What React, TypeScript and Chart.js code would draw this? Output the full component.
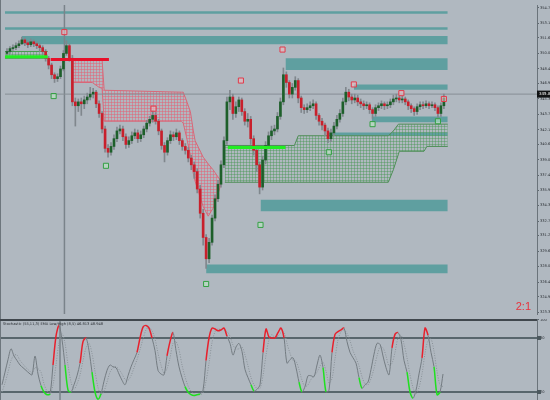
import React, { useEffect, useRef } from "react";
import { Chart, registerables } from "chart.js";

Chart.register(...registerables);

// ---------------- price data (one candle per bar) ----------------
const opens = [
  350.0, 350.2, 350.5, 350.6, 350.8, 351.0, 351.4, 351.1, 350.9, 351.2,
  351.0, 350.8, 350.6, 350.2, 349.5, 348.8, 347.8, 347.4, 347.6, 348.4,
  350.0, 350.8, 349.5, 345.0, 344.6, 345.0, 344.8, 345.2, 345.5, 345.8,
  346.0, 344.8, 343.8, 342.2, 340.2, 339.8, 340.4, 341.2, 342.0, 342.2,
  341.4, 340.6, 341.0, 341.5, 341.8, 341.2, 341.6, 342.2, 342.8, 343.2,
  343.6, 343.0, 342.0, 340.5, 339.8, 341.0, 341.6, 341.4, 341.8, 341.0,
  340.4, 340.0, 339.2, 338.5, 337.8, 336.0, 333.5, 331.0, 328.8, 330.5,
  333.0, 335.0, 336.5, 338.5, 341.0, 345.0, 345.5, 343.8, 344.5, 345.2,
  344.0, 343.0, 343.2, 341.2, 340.0, 338.5, 336.2, 339.0, 340.5, 341.5,
  342.0, 342.2, 343.5, 345.0, 347.8, 347.0, 345.8, 346.5, 347.2, 345.4,
  344.4, 344.2, 344.4, 344.6, 344.8, 343.6, 343.0, 342.6, 342.0, 341.2,
  341.8, 342.5, 343.2, 343.8, 345.0, 346.0, 345.5, 345.2, 345.4, 345.0,
  344.8, 344.6, 344.7, 344.2, 343.8, 344.4, 344.6, 344.8, 344.6, 344.7,
  345.0, 345.3, 345.4, 345.2, 345.3, 345.0, 344.6, 344.3, 344.0, 344.5,
  344.7, 344.6, 344.8, 344.6, 344.7, 344.4, 343.8, 344.6,
];
const closes = [
  350.2, 350.5, 350.6, 350.8, 351.0, 351.4, 351.1, 350.9, 351.2, 351.0,
  350.8, 350.6, 350.2, 349.5, 348.8, 347.8, 347.4, 347.6, 348.4, 350.0,
  350.8, 349.5, 345.0, 344.6, 345.0, 344.8, 345.2, 345.5, 345.8, 346.0,
  344.8, 343.8, 342.2, 340.2, 339.8, 340.4, 341.2, 342.0, 342.2, 341.4,
  340.6, 341.0, 341.5, 341.8, 341.2, 341.6, 342.2, 342.8, 343.2, 343.6,
  343.0, 342.0, 340.5, 339.8, 341.0, 341.6, 341.4, 341.8, 341.0, 340.4,
  340.0, 339.2, 338.5, 337.8, 336.0, 333.5, 331.0, 328.8, 330.5, 333.0,
  335.0, 336.5, 338.5, 341.0, 345.0, 345.5, 343.8, 344.5, 345.2, 344.0,
  343.0, 343.2, 341.2, 340.0, 338.5, 336.2, 339.0, 340.5, 341.5, 342.0,
  342.2, 343.5, 345.0, 347.8, 347.0, 345.8, 346.5, 347.2, 345.4, 344.4,
  344.2, 344.4, 344.6, 344.8, 343.6, 343.0, 342.6, 342.0, 341.2, 341.8,
  342.5, 343.2, 343.8, 345.0, 346.0, 345.5, 345.2, 345.4, 345.0, 344.8,
  344.6, 344.7, 344.2, 343.8, 344.4, 344.6, 344.8, 344.6, 344.7, 345.0,
  345.3, 345.4, 345.2, 345.3, 345.0, 344.6, 344.3, 344.0, 344.5, 344.7,
  344.6, 344.8, 344.6, 344.7, 344.4, 343.8, 344.6, 345.4,
];
const highs = [
  350.5, 350.7, 350.9, 351.1, 351.3, 351.7, 351.6, 351.3, 351.5, 351.4,
  351.2, 351.0, 350.8, 350.4, 349.7, 349.0, 348.0, 347.9, 348.7, 350.3,
  351.3, 351.0, 349.8, 345.4, 345.3, 345.4, 345.6, 345.9, 346.5, 346.4,
  346.2, 345.1, 344.0, 342.5, 340.6, 340.8, 341.6, 342.4, 342.6, 342.5,
  341.7, 341.4, 341.9, 342.2, 342.1, 342.0, 342.5, 343.1, 343.5, 344.1,
  343.9, 343.2, 342.2, 340.8, 341.3, 342.0, 341.9, 342.2, 342.0, 341.2,
  340.7, 340.3, 339.5, 338.8, 338.1, 336.4, 333.9, 331.3, 330.9, 333.3,
  335.4, 336.9, 338.9, 341.4, 345.5, 346.2, 345.8, 345.0, 345.5, 345.4,
  344.3, 343.8, 343.5, 341.5, 340.3, 338.8, 339.4, 340.9, 341.9, 342.5,
  342.6, 343.9, 345.4, 348.5, 348.1, 347.2, 346.9, 347.6, 347.4, 345.6,
  344.7, 344.8, 345.0, 345.2, 345.0, 343.8, 343.3, 342.8, 342.3, 342.2,
  342.9, 343.6, 344.2, 345.4, 346.5, 346.3, 345.8, 345.8, 345.7, 345.3,
  345.1, 345.0, 344.9, 344.4, 344.7, 344.9, 345.1, 345.0, 345.0, 345.3,
  345.7, 345.8, 345.6, 345.6, 345.5, 345.2, 344.8, 344.5, 344.8, 345.0,
  345.0, 345.1, 345.0, 345.0, 344.9, 344.6, 344.9, 345.8,
];
const lows = [
  349.8, 350.0, 350.3, 350.4, 350.6, 350.9, 350.8, 350.6, 350.7, 350.7,
  350.5, 350.2, 349.9, 349.2, 348.4, 347.4, 347.0, 347.1, 347.4, 348.2,
  349.8, 349.2, 344.6, 342.5, 344.0, 343.6, 344.3, 344.8, 345.2, 345.4,
  344.4, 343.4, 341.8, 339.8, 339.3, 339.5, 340.1, 340.9, 341.7, 341.0,
  340.2, 340.3, 340.7, 341.2, 340.8, 340.9, 341.3, 341.9, 342.5, 342.9,
  342.7, 341.6, 340.1, 338.8, 339.5, 340.7, 341.0, 341.1, 340.6, 340.0,
  339.6, 338.8, 338.0, 337.1, 335.6, 333.0, 330.2, 327.8, 328.4, 330.2,
  332.7, 334.7, 336.2, 338.2, 340.6, 344.2, 343.2, 343.4, 344.0, 343.6,
  342.6, 342.4, 340.6, 339.5, 337.8, 335.5, 335.9, 338.6, 340.2, 341.1,
  341.6, 341.9, 343.2, 344.7, 346.5, 345.4, 345.4, 346.2, 344.9, 343.9,
  343.8, 343.9, 344.1, 344.3, 343.2, 342.6, 342.1, 341.5, 340.8, 340.9,
  341.5, 342.2, 342.9, 343.5, 344.7, 345.1, 344.8, 344.9, 344.6, 344.4,
  344.2, 344.3, 343.8, 343.3, 343.5, 344.1, 344.3, 344.2, 344.3, 344.4,
  344.7, 345.0, 344.9, 344.9, 344.7, 344.2, 343.9, 343.6, 343.7, 344.2,
  344.3, 344.4, 344.3, 344.4, 344.1, 343.3, 343.5, 344.3,
];

// price axis
const priceTicks = [
  354.7, 353.1, 351.6, 350.0, 348.4, 346.9, 345.3, 343.7, 342.1, 340.6, 339.0,
  337.4, 335.9, 334.3, 332.7, 331.2, 329.6, 328.0, 326.4, 324.9, 323.3,
];
const priceTickLabels = [
  "354.7", "353.1", "351.6", "350.0", "348.4", "346.9", "345.3", "343.7", "342.1", "340.6", "339.0",
  "337.4", "335.9", "334.3", "332.7", "331.2", "329.6", "328.0", "326.4", "324.9", "323.3",
];
const currentPrice = 345.8;
const currentPriceLabel = "345.8";
const crosshairBar = 19.33;

// supply / demand zones (teal boxes)
const zoneStart = [-0.7, -0.7, 5, 93.7, 116.7, 122.7, 108.3, 85.3, 67];
const zoneEnd = [148.3, 148.3, 148.3, 148.3, 148.3, 148.3, 148.3, 148.3, 148.3];
const zoneTop = [354.35, 352.7, 351.8, 349.5, 346.8, 343.5, 341.85, 334.9, 328.2];
const zoneBottom = [354.1, 352.45, 350.95, 348.3, 346.25, 342.9, 341.5, 333.7, 327.3];

// hatched red cloud
const redCloudX = [21.7, 28.7, 31, 32, 32.7, 58.7, 59.3, 60.3, 61.7, 62.7, 63.3, 66, 67.7, 69.3, 70, 72];
const redCloudUpper = [349.3, 349.3, 349.3, 349.3, 346.2, 346.0, 346.0, 345.2, 344.0, 342.0, 341.0, 339.3, 338.6, 338.0, 337.7, 336.8];
const redCloudLower = [347.0, 347.0, 346.5, 346.4, 343.0, 343.0, 342.8, 341.5, 339.5, 337.6, 336.8, 334.2, 333.2, 334.0, 334.5, 336.5];

// hatched green cloud
const greenCloudX = [73.3, 96.7, 98, 128.3, 130, 131.7, 132, 140.3, 141.3, 148.3];
const greenCloudUpper = [340.5, 340.5, 341.5, 341.5, 342.0, 342.7, 342.7, 342.7, 342.7, 342.7];
const greenCloudLower = [336.7, 336.7, 336.7, 336.7, 338.0, 339.6, 339.9, 339.9, 340.4, 340.4];
const smallZoneX = [-0.7, 13.7];
const smallZoneUpper = [350.2, 350.2];
const smallZoneLower = [349.5, 349.5];

// thick level lines
const redLevelX = [14.7, 34.3];
const redLevel = 349.37;
const greenLevel1X = [-0.7, 13.7];
const greenLevel1 = 349.65;
const greenLevel2X = [74.3, 93.7];
const greenLevel2 = 340.3;

// fractal markers
const redMarkX = [19.3, 49.3, 78.7, 92.7, 116.7, 132.7, 147];
const redMarkY = [352.2, 344.3, 347.2, 350.4, 346.8, 345.9, 345.3];
const greenMarkX = [15.7, 33.3, 67, 85.3, 108.3, 123, 145];
const greenMarkY = [345.6, 338.4, 326.2, 332.3, 339.8, 342.7, 343.0];

// ---------------- stochastic ----------------
const stochMain = [
  28, 42, 56, 68, 60, 55, 50, 47, 44, 41,
  39, 60, 40, 27, 20, 17, 18, 50, 82, 94,
  78, 50, 22, 20, 28, 38, 52, 76, 80, 66,
  42, 20, 12, 18, 32, 44, 50, 48, 47, 40,
  33, 28, 38, 48, 56, 64, 80, 92, 94, 91,
  80, 66, 44, 40, 39, 60, 76, 86, 66, 48,
  36, 26, 20, 17, 16, 17, 18, 22, 55, 80,
  91, 90, 88, 89, 91, 82, 74, 61, 70, 74,
  65, 45, 36, 28, 21, 23, 28, 64, 90, 81,
  80, 80, 86, 91, 80, 52, 56, 58, 47, 31,
  20, 26, 38, 38, 37, 50, 61, 47, 20, 22,
  64, 84, 87, 89, 91, 76, 64, 58, 52, 36,
  24, 28, 31, 45, 62, 74, 73, 60, 47, 39,
  69, 84, 86, 78, 55, 42, 20, 13, 22, 40,
  58, 91, 83, 64, 48, 17, 20, 40,
];
const stochSignal = [
  20, 30, 42, 55, 61, 61, 55, 51, 47, 44,
  41, 47, 46, 42, 29, 21, 18, 28, 50, 75,
  85, 74, 50, 31, 23, 29, 39, 55, 69, 74,
  63, 43, 25, 17, 21, 31, 42, 47, 48, 45,
  40, 34, 33, 38, 47, 56, 67, 79, 89, 92,
  88, 79, 63, 50, 41, 46, 58, 74, 76, 67,
  50, 37, 27, 21, 18, 17, 17, 19, 32, 52,
  75, 87, 90, 89, 89, 87, 82, 72, 68, 68,
  70, 61, 49, 36, 28, 24, 24, 38, 61, 78,
  84, 80, 82, 86, 86, 74, 63, 55, 54, 45,
  33, 26, 28, 34, 38, 42, 49, 53, 43, 30,
  35, 57, 78, 87, 89, 85, 77, 66, 58, 49,
  37, 29, 28, 35, 46, 60, 70, 69, 60, 49,
  52, 64, 80, 83, 73, 58, 39, 25, 18, 25,
  40, 63, 77, 79, 65, 43, 28, 26,
];
const stochLevels = [80, 20];
const stochTicks = [100, 80, 20];
const stochTickLabels = ["100", "80", "20"];
const stochTitle = "Stochastic (55,11,3) EMA Low/High (8,5) 46.813 48.948";
const ratioLabel = "2:1";

// ---------------- styling ----------------
const BG = "#b0b8c0";
const TEAL = "#5f9fa0";
const BULL = "#1d5f2a";
const BEAR = "#c8202c";
const WICK = "#80878d";

function makeHatch(color: string) {
  const c = document.createElement("canvas");
  c.width = 3;
  c.height = 3;
  const g = c.getContext("2d")!;
  g.fillStyle = color;
  g.fillRect(0, 0, 3, 1);
  g.fillRect(0, 0, 1, 3);
  return g.createPattern(c, "repeat")!;
}

const pts = (xs: number[], ys: number[]) => xs.map((x, k) => ({ x, y: ys[k] }));

export default function App() {
  const mainRef = useRef<HTMLCanvasElement>(null);
  const subRef = useRef<HTMLCanvasElement>(null);

  useEffect(() => {
    const X_MIN = -0.67;
    const X_MAX = 178.33;
    const P_MIN = 323.1;
    const P_MAX = 355.0;
    const redHatch = makeHatch("rgba(228,96,116,0.5)");
    const greenHatch = makeHatch("rgba(70,150,80,0.42)");

    const line = (data: any[], color: string, width: number, extra: any = {}) => ({
      type: "line" as const,
      data,
      borderColor: color,
      borderWidth: width,
      pointRadius: 0,
      tension: 0,
      fill: false,
      ...extra,
    });

    const zoneSets = zoneStart.map((s, k) =>
      line(
        [
          { x: s, y: zoneTop[k] },
          { x: zoneEnd[k], y: zoneTop[k] },
        ],
        TEAL,
        0,
        { fill: { value: zoneBottom[k] }, backgroundColor: TEAL, order: 20 }
      )
    );

    const mainDecor = {
      id: "mainDecor",
      afterDraw(chart: any) {
        const ctx = chart.ctx;
        const ys = chart.scales.y;
        const area = chart.chartArea;
        ctx.save();
        ctx.fillStyle = "#6d767d";
        ctx.fillRect(0, 0, 1, chart.height);
        const py = ys.getPixelForValue(currentPrice);
        ctx.fillStyle = "#101214";
        ctx.fillRect(area.right, py - 3.5, chart.width - area.right, 7);
        ctx.fillStyle = "#ffffff";
        ctx.font = '4px "DejaVu Sans"';
        ctx.textBaseline = "middle";
        ctx.fillText(currentPriceLabel, area.right + 2, py + 0.3);
        ctx.fillStyle = "#e8323c";
        ctx.font = '11px "Liberation Sans Narrow", "Liberation Sans", sans-serif';
        ctx.textBaseline = "alphabetic";
        ctx.textAlign = "right";
        ctx.fillText(ratioLabel, area.right - 6, area.bottom - 4);
        ctx.restore();
      },
    };

    const main = new Chart(mainRef.current!, {
      type: "bar",
      data: {
        datasets: [
          ...zoneSets,
          line(pts(redCloudX, redCloudUpper), "#d86878", 1, { fill: "+1", backgroundColor: redHatch, order: 15 }),
          line(pts(redCloudX, redCloudLower), "#d86878", 1, { order: 15 }),
          line(pts(greenCloudX, greenCloudUpper), "#4f8d57", 1, { fill: "+1", backgroundColor: greenHatch, order: 15 }),
          line(pts(greenCloudX, greenCloudLower), "#4f8d57", 1, { order: 15 }),
          line(pts(smallZoneX, smallZoneUpper), "#4a9a52", 1, { fill: "+1", backgroundColor: greenHatch, order: 15 }),
          line(pts(smallZoneX, smallZoneLower), "#4a9a52", 1, { order: 15 }),
          line(
            [
              { x: X_MIN, y: currentPrice },
              { x: X_MAX, y: currentPrice },
            ],
            "#868e95",
            1,
            { order: 14 }
          ),
          line(
            [
              { x: crosshairBar, y: P_MIN },
              { x: crosshairBar, y: P_MAX },
            ],
            "#7a838a",
            1.5,
            { order: 14 }
          ),
          {
            type: "bar" as const,
            data: closes.map((_, i) => ({ x: i, y: [lows[i], highs[i]] })),
            backgroundColor: WICK,
            barThickness: 1,
            grouped: false,
            borderWidth: 0,
            order: 8,
          },
          {
            type: "bar" as const,
            data: closes.map((c, i) => ({ x: i, y: [opens[i], c] })),
            backgroundColor: closes.map((c, i) => (c >= opens[i] ? BULL : BEAR)),
            barThickness: 2,
            grouped: false,
            borderWidth: 0,
            minBarLength: 1,
            order: 7,
          },
          line(
            redLevelX.map((x) => ({ x, y: redLevel })),
            "#e8102a",
            3,
            { order: 4 }
          ),
          line(
            greenLevel1X.map((x) => ({ x, y: greenLevel1 })),
            "#22ee22",
            3,
            { order: 4 }
          ),
          line(
            greenLevel2X.map((x) => ({ x, y: greenLevel2 })),
            "#22ee22",
            3,
            { order: 4 }
          ),
          {
            type: "scatter" as const,
            data: pts(redMarkX, redMarkY),
            pointStyle: "rect",
            pointRadius: 3.6,
            borderWidth: 1,
            borderColor: "#e23a4a",
            backgroundColor: "rgba(240,190,195,0.55)",
            order: 1,
          },
          {
            type: "scatter" as const,
            data: pts(greenMarkX, greenMarkY),
            pointStyle: "rect",
            pointRadius: 3.6,
            borderWidth: 1,
            borderColor: "#34a044",
            backgroundColor: "rgba(190,235,195,0.55)",
            order: 1,
          },
        ] as any,
      },
      options: {
        responsive: false,
        animation: false,
        devicePixelRatio: 1,
        events: [],
        layout: { padding: 0 },
        plugins: { legend: { display: false }, tooltip: { enabled: false } },
        scales: {
          x: { type: "linear", min: X_MIN, max: X_MAX, display: false, offset: false },
          y: {
            position: "right",
            min: P_MIN,
            max: P_MAX,
            afterFit: (s: any) => {
              s.width = 13;
              s.paddingTop = 0;
              s.paddingBottom = 0;
            },
            afterBuildTicks: (s: any) => {
              s.ticks = priceTicks.map((v) => ({ value: v }));
            },
            ticks: {
              autoSkip: false,
              padding: 1,
              color: "#2a2e33",
              font: { size: 3.6, family: "DejaVu Sans" },
              callback: (_v: any, idx: number) => priceTickLabels[idx],
            },
            grid: { drawOnChartArea: false, drawTicks: true, tickLength: 2, color: "#5d666d" },
            border: { display: true, color: "#6a737a", width: 1 },
          },
        },
      } as any,
      plugins: [mainDecor],
    });

    const segColor = (ctx: any) => {
      const a = ctx.p0.parsed.y;
      const b = ctx.p1.parsed.y;
      if ((b >= 75 && b > a) || (a >= 80 && b >= 80)) return "#e8202c";
      if ((b <= 25 && b < a) || (a <= 20 && b <= 20)) return "#1fe01f";
      return "#737b81";
    };
    const segWidth = (ctx: any) => (segColor(ctx) === "#737b81" ? 1 : 1.5);

    const subDecor = {
      id: "subDecor",
      afterDraw(chart: any) {
        const ctx = chart.ctx;
        const area = chart.chartArea;
        const ys = chart.scales.y;
        ctx.save();
        ctx.fillStyle = "#6d767d";
        ctx.fillRect(0, 0, 1, chart.height);
        ctx.fillStyle = "#40474d";
        ctx.fillRect(0, 0, area.right, 2);
        ctx.fillStyle = "#2a2e33";
        ctx.font = '3.6px "DejaVu Sans"';
        ctx.textBaseline = "middle";
        ctx.fillText(stochTitle, 3, 5);
        ctx.fillStyle = "#4c585e";
        stochLevels.forEach((lv) => {
          const py = ys.getPixelForValue(lv);
          ctx.fillRect(area.right, py - 2, 4, 4);
        });
        ctx.restore();
      },
    };

    const sub = new Chart(subRef.current!, {
      type: "line",
      data: {
        datasets: [
          ...stochLevels.map((lv) =>
            line(
              [
                { x: X_MIN, y: lv },
                { x: X_MAX, y: lv },
              ],
              "#58666c",
              2,
              { order: 10 }
            )
          ),
          line(
            [
              { x: crosshairBar, y: 0 },
              { x: crosshairBar, y: 110 },
            ],
            "#7a838a",
            1.5,
            { order: 9 }
          ),
          line(
            stochSignal.map((v, i) => ({ x: i, y: v })),
            "#8a9298",
            1,
            { borderDash: [1, 1.5], tension: 0.3, order: 5 }
          ),
          line(
            stochMain.map((v, i) => ({ x: i, y: v })),
            "#737b81",
            1,
            { tension: 0.3, segment: { borderColor: segColor, borderWidth: segWidth }, order: 2 }
          ),
        ] as any,
      },
      options: {
        responsive: false,
        animation: false,
        devicePixelRatio: 1,
        events: [],
        layout: { padding: 0 },
        plugins: { legend: { display: false }, tooltip: { enabled: false } },
        scales: {
          x: { type: "linear", min: X_MIN, max: X_MAX, display: false, offset: false },
          y: {
            position: "right",
            min: 11.1,
            max: 101.1,
            afterFit: (s: any) => {
              s.width = 13;
              s.paddingTop = 0;
              s.paddingBottom = 0;
            },
            afterBuildTicks: (s: any) => {
              s.ticks = stochTicks.map((v) => ({ value: v }));
            },
            ticks: {
              autoSkip: false,
              padding: 1,
              color: "#2a2e33",
              font: { size: 3.6, family: "DejaVu Sans" },
              callback: (_v: any, idx: number) => stochTickLabels[idx],
            },
            grid: { drawOnChartArea: false, drawTicks: true, tickLength: 2, color: "#5d666d" },
            border: { display: true, color: "#6a737a", width: 1 },
          },
        },
      } as any,
      plugins: [subDecor],
    });

    return () => {
      main.destroy();
      sub.destroy();
    };
  }, []);

  return (
    <div
      style={{
        position: "fixed",
        left: 0,
        top: 0,
        width: 550,
        height: 400,
        background: BG,
        overflow: "hidden",
      }}
    >
      <canvas
        ref={mainRef}
        width={550}
        height={319}
        style={{ position: "absolute", left: 0, top: 0, width: 550, height: 319 }}
      />
      <canvas
        ref={subRef}
        width={550}
        height={81}
        style={{ position: "absolute", left: 0, top: 319, width: 550, height: 81 }}
      />
    </div>
  );
}
